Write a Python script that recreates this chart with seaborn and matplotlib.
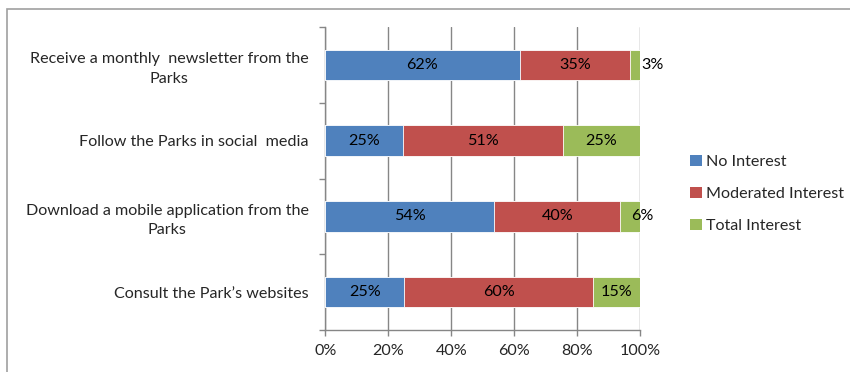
import matplotlib
matplotlib.use("Agg")
import matplotlib.pyplot as plt
import matplotlib.patches as mpatches
import numpy as np
import pandas as pd
import seaborn as sns

# Survey items (top to bottom) and share of respondents per interest level (%)
items = [
    "Receive a monthly  newsletter from the\nParks",
    "Follow the Parks in social  media",
    "Download a mobile application from the\nParks",
    "Consult the Park\u2019s websites",
]
no_interest = [61.7, 24.6, 53.7, 25.0]
moderated_interest = [35.0, 50.8, 40.0, 60.0]
total_interest = [3.3, 24.6, 6.3, 15.0]

series_names = ["No Interest", "Moderated Interest", "Total Interest"]
series_colors = ["#4F81BD", "#C0504D", "#9BBB59"]

sns.set_theme(style="white")
plt.rcParams["font.family"] = ["Lato", "DejaVu Sans"]
FS = 11.6

df = pd.DataFrame({
    "item": items,
    "No Interest": no_interest,
    "Moderated Interest": moderated_interest,
    "Total Interest": total_interest,
})
cum = df[series_names].cumsum(axis=1)

fig = plt.figure(figsize=(8.5, 3.72), dpi=100)
ax = fig.add_axes([0.3827, 0.1129, 0.3706, 0.8145])

# stacked bars: draw cumulative totals from the widest layer down
handles = []
for name, color in reversed(list(zip(series_names, series_colors))):
    sns.barplot(x=cum[name], y=df["item"], orient="h", color=color,
                width=0.4, saturation=1, ax=ax, linewidth=0.6,
                edgecolor="white", zorder=3)
for name, color in zip(series_names, series_colors):
    handles.append(mpatches.Patch(facecolor=color, edgecolor="none", label=name))

# value labels
for i, row in df.iterrows():
    start = 0.0
    for name in series_names:
        v = row[name]
        txt = f"{round(v):.0f}%"
        if v < 10:
            ax.text(start + 3.5, i, txt, ha="left", va="center",
                    fontsize=FS, color="black", zorder=5)
        else:
            ax.text(start + v / 2, i, txt, ha="center", va="center",
                    fontsize=FS, color="black", zorder=5)
        start += v

ax.set_xlim(0, 100)
ax.set_ylim(3.5, -0.5)
ax.set_xticks(np.arange(0, 101, 20))
ax.set_xticklabels([f"{t}%" for t in range(0, 101, 20)], fontsize=FS)
ax.set_yticks(range(len(items)))
ax.set_yticklabels(items, fontsize=FS, multialignment="center", linespacing=1.5)
ax.set_yticks(np.arange(-0.5, 4.0, 1.0), minor=True)
ax.set_xlabel("")
ax.set_ylabel("")

grid_c = "#868686"
ax.xaxis.grid(True, color=grid_c, linewidth=1, zorder=0)
ax.yaxis.grid(False)
for s in ["top", "right"]:
    ax.spines[s].set_visible(False)
for s in ["left", "bottom"]:
    ax.spines[s].set_color(grid_c)
    ax.spines[s].set_linewidth(1)
ax.tick_params(axis="x", which="major", direction="out", length=4,
               width=1, color=grid_c, pad=6, bottom=True)
ax.tick_params(axis="y", which="major", length=0, pad=12)
ax.tick_params(axis="y", which="minor", direction="out", length=4,
               width=1, color=grid_c, left=True)
ax.set_axisbelow(True)

fig.legend(handles=handles, loc="center left",
           bbox_to_anchor=(0.795, 0.479), frameon=False, fontsize=FS,
           handlelength=0.7, handleheight=0.7, handletextpad=0.3,
           labelspacing=1.1)

# outer chart frame
fig.patches.append(mpatches.Rectangle((7 / 850, -0.1), 1.0, 1.1 - 9 / 372,
                                      transform=fig.transFigure, fill=False,
                                      edgecolor="#A0A0A0", linewidth=1.2))

fig.savefig("out.png", dpi=100)
